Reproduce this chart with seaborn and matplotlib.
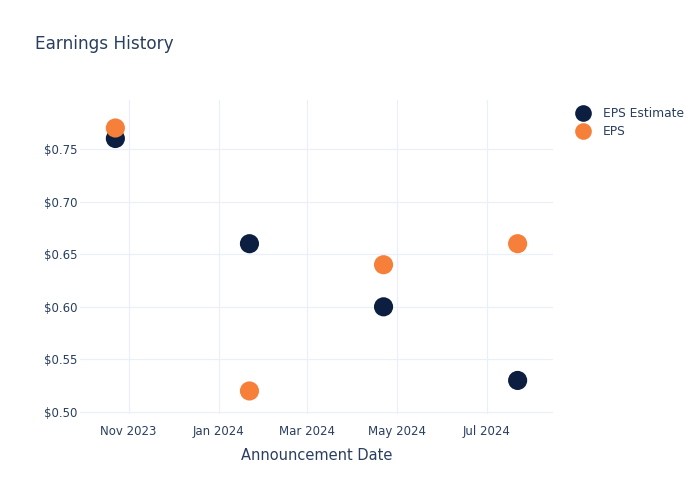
import matplotlib
matplotlib.use("Agg")
import matplotlib.pyplot as plt
import matplotlib.dates as mdates
from matplotlib.ticker import FuncFormatter
from matplotlib.lines import Line2D
import seaborn as sns
import pandas as pd

dates = ["2023-10-23", "2024-01-22", "2024-04-22", "2024-07-22"]
eps_estimate = [0.76, 0.66, 0.60, 0.53]
eps_actual = [0.77, 0.52, 0.64, 0.66]
series_names = ["EPS Estimate", "EPS"]
colors = ["#0c1f40", "#f6803a"]
y_ticks = [0.50, 0.55, 0.60, 0.65, 0.70, 0.75]
x_ticks = ["2023-11-01", "2024-01-01", "2024-03-01", "2024-05-01", "2024-07-01"]

df = pd.DataFrame({
    "date": pd.to_datetime(dates * 2),
    "value": eps_estimate + eps_actual,
    "series": [series_names[0]] * len(dates) + [series_names[1]] * len(dates),
})

sns.set_theme(style="white")
plt.rcParams["font.family"] = ["DejaVu Sans"]
text_color = "#2a3f5f"
grid_color = "#ebf0f8"

fig = plt.figure(figsize=(7, 5), dpi=100)
ax = fig.add_axes([80 / 700, 1 - 414 / 500, 473 / 700, 314 / 500])

sns.scatterplot(data=df, x="date", y="value", hue="series", hue_order=series_names,
                palette=colors, s=190, linewidth=0, ax=ax, legend=False, zorder=3)

ax.set_xlim(pd.Timestamp("2023-09-29"), pd.Timestamp("2024-08-15"))
ax.set_ylim(0.4981, 0.7966)
ax.set_yticks(y_ticks)
ax.yaxis.set_major_formatter(FuncFormatter(lambda v, p: f"${v:.2f}"))
ax.set_xticks(pd.to_datetime(x_ticks))
ax.xaxis.set_major_formatter(mdates.DateFormatter("%b %Y"))

ax.grid(True, color=grid_color, linewidth=0.9, zorder=0)
ax.set_axisbelow(True)
for s in ax.spines.values():
    s.set_visible(False)
ax.tick_params(axis="both", colors=text_color, labelsize=8.5, length=0)
ax.tick_params(axis="y", pad=2)
ax.tick_params(axis="x", pad=8)
ax.set_xlabel("Announcement Date", color=text_color, fontsize=10.5, labelpad=7)
ax.set_ylabel("")

fig.text(35 / 700, 1 - 44 / 500, "Earnings History", color=text_color,
         fontsize=12.2, va="center", ha="left")

handles = [Line2D([0], [0], marker="o", linestyle="", markersize=12,
                  markerfacecolor=c, markeredgewidth=0) for c in colors]
fig.legend(handles, series_names, loc="upper left",
           bbox_to_anchor=(566 / 700, 1 - 102 / 500), frameon=False,
           fontsize=8.8, labelcolor=text_color, handletextpad=0.6,
           labelspacing=0.45, borderaxespad=0)

fig.savefig("out.png", dpi=100, facecolor="white")
